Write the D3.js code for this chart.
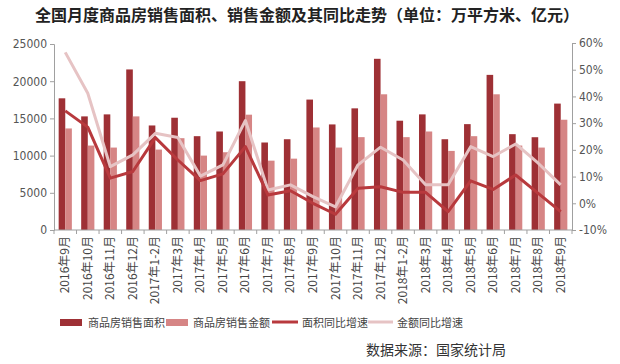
<!DOCTYPE html>
<html>
<head>
<meta charset="utf-8">
<script src="https://cdn.jsdelivr.net/npm/d3@7"></script>
<style>
body{margin:0;background:#fff;}
svg{display:block;font-family:"Noto Sans CJK SC","Noto Sans",sans-serif;}
</style>
</head>
<body>
<svg id="chart" width="620" height="364"></svg>
<script>
var months = ["2016年9月","2016年10月","2016年11月","2016年12月","2017年1-2月","2017年3月","2017年4月","2017年5月","2017年6月","2017年7月","2017年8月","2017年9月","2017年10月","2017年11月","2017年12月","2018年1-2月","2018年3月","2018年4月","2018年5月","2018年6月","2018年7月","2018年8月","2018年9月"];
var area = [17700,15270,15540,21580,14050,15090,12610,13240,20000,11760,12200,17530,14190,16350,23010,14690,15540,12200,14230,20850,12880,12470,16990];
var amount = [13650,11350,11080,15270,10810,12340,10000,10450,15500,9320,9590,13780,11080,12480,18240,12480,13240,10630,12610,18240,11350,11080,14820];
var areaGrowth = [34.6,28.5,9.4,11.9,24.6,16.2,8.5,11,21.2,3.1,4.7,0,-4.1,5.6,6.2,4.1,4.1,-3.1,8.4,5.2,10.6,3.7,-3.1];
var amountGrowth = [56.5,41.2,13.7,18.1,26.2,24.6,10.2,14.4,31,5,6.9,2.5,-1.3,14.4,21,16.2,6.9,6.9,21.2,17.5,22.2,15,6.9];
var leftTicks = [0,5000,10000,15000,20000,25000];
var rightTicks = [-10,0,10,20,30,40,50,60];

var c1 = "#9e3035", c2 = "#d68585", c3 = "#b8393d", c4 = "#e6c3c4";

var svg = d3.select("#chart");
var x0 = 54, x1 = 572, yTop = 44, yBot = 230;

var x = d3.scaleBand().domain(months).range([x0, x1]);
var yL = d3.scaleLinear().domain([0, 25000]).range([yBot, yTop]);
var yR = d3.scaleLinear().domain([-10, 60]).range([yBot, 43]);
var bw = 6.6;

svg.append("text").attr("x", 307).attr("y", 21).attr("text-anchor", "middle")
	.attr("font-size", 16).attr("font-weight", "bold").attr("fill", "#222")
	.text("全国月度商品房销售面积、销售金额及其同比走势（单位：万平方米、亿元）");

// bars
var g = svg.append("g");
g.selectAll("rect.a").data(area).enter().append("rect")
	.attr("x", function(d, i){ return x(months[i]) + x.bandwidth()/2 - bw; })
	.attr("y", function(d){ return yL(d); })
	.attr("width", bw).attr("height", function(d){ return yBot - yL(d); })
	.attr("fill", c1);
g.selectAll("rect.b").data(amount).enter().append("rect")
	.attr("x", function(d, i){ return x(months[i]) + x.bandwidth()/2; })
	.attr("y", function(d){ return yL(d); })
	.attr("width", bw).attr("height", function(d){ return yBot - yL(d); })
	.attr("fill", c2);

// lines
var cx = function(d, i){ return x(months[i]) + x.bandwidth()/2; };
var line = d3.line().x(cx).y(function(d){ return yR(d); });
svg.append("path").attr("d", line(amountGrowth)).attr("fill", "none")
	.attr("stroke", c4).attr("stroke-width", 3).attr("stroke-linejoin", "round");
svg.append("path").attr("d", line(areaGrowth)).attr("fill", "none")
	.attr("stroke", c3).attr("stroke-width", 3).attr("stroke-linejoin", "round");

// axes
var axL = svg.append("g").attr("transform", "translate(" + x0 + ",0)")
	.call(d3.axisLeft(yL).tickValues(leftTicks).tickSize(4).tickFormat(d3.format("d")));
var axR = svg.append("g").attr("transform", "translate(" + x1 + ",0)")
	.call(d3.axisRight(yR).tickValues(rightTicks).tickSize(4).tickFormat(function(d){ return d + "%"; }));
[axL, axR].forEach(function(a){
	a.select(".domain").attr("stroke", "#a0a0a0");
	a.selectAll(".tick line").attr("stroke", "#a0a0a0");
	a.selectAll("text").attr("font-size", 12).attr("fill", "#555")
		.attr("font-family", "'DejaVu Sans Condensed','Liberation Sans',sans-serif");
});

var axB = svg.append("g").attr("transform", "translate(0," + yBot + ")");
axB.append("line").attr("x1", x0).attr("x2", x1).attr("stroke", "#a0a0a0");
axB.selectAll("line.t").data(months.concat([""])).enter().append("line")
	.attr("x1", function(d, i){ return x0 + i * x.step(); })
	.attr("x2", function(d, i){ return x0 + i * x.step(); })
	.attr("y1", 0).attr("y2", 4).attr("stroke", "#a0a0a0");
axB.selectAll("text").data(months).enter().append("text")
	.attr("transform", function(d){ return "translate(" + (x(d) + x.bandwidth()/2 + 4) + ",6) rotate(-90)"; })
	.attr("text-anchor", "end").attr("font-size", 12).attr("fill", "#444")
	.text(function(d){ return d; });

// legend
var lg = svg.append("g").attr("transform", "translate(0,322)");
lg.append("rect").attr("x", 60).attr("y", -3).attr("width", 22).attr("height", 7).attr("fill", c1);
lg.append("rect").attr("x", 166).attr("y", -3).attr("width", 22).attr("height", 7).attr("fill", c2);
lg.append("line").attr("x1", 272).attr("x2", 298).attr("stroke", c3).attr("stroke-width", 3);
lg.append("line").attr("x1", 368).attr("x2", 393).attr("stroke", c4).attr("stroke-width", 3);
var lt = [["商品房销售面积", 88], ["商品房销售金额", 193], ["面积同比增速", 302], ["金额同比增速", 397]];
lg.selectAll("text").data(lt).enter().append("text")
	.attr("x", function(d){ return d[1]; }).attr("y", 5)
	.attr("font-size", 11).attr("fill", "#444").text(function(d){ return d[0]; });

svg.append("text").attr("x", 506).attr("y", 355).attr("text-anchor", "end")
	.attr("font-size", 14).attr("fill", "#333").text("数据来源：国家统计局");
</script>
</body>
</html>
